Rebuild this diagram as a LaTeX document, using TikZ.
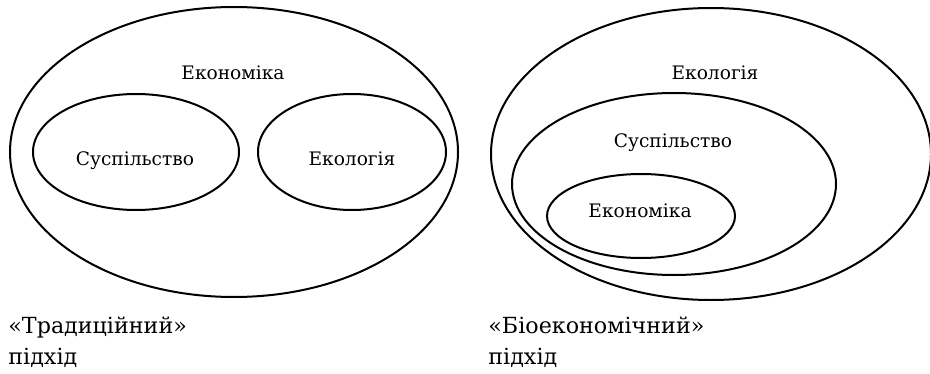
\documentclass[tikz,border=0pt]{standalone}
\usepackage{fontspec}
\setmainfont{DejaVu Serif}
\usepackage{tikz}
\usetikzlibrary{shapes.geometric,positioning}

\begin{document}
\begin{tikzpicture}[x=0.5pt, y=-0.5pt,
    set/.style={draw, ellipse, line width=1pt, inner sep=0pt},
    lbl/.style={anchor=base, inner sep=0pt, font=\fontsize{9.3}{12}\selectfont},
    captxt/.style={anchor=base west, inner sep=0pt, font=\fontsize{11.1}{14}\selectfont}]
  \useasboundingbox (0,0) rectangle (930,374);

  % "traditional" approach
  \node[set, minimum width=224pt, minimum height=145pt] (econL) at (234,152) {};
  \node[set, minimum width=103pt, minimum height=58pt] (socL) at (136,152) {};
  \node[set, minimum width=94pt, minimum height=58pt] (ecoL) at (352,152) {};
  \node[lbl] (econLtxt) at (233,80) {Економіка};
  \node[lbl] (socLtxt) at (135,165) {Суспільство};
  \node[lbl] (ecoLtxt) at (352,165) {Екологія};
  \node[captxt] (tradA) at (8,333) {«Традиційний»};
  \node[captxt] (tradB) at (8,364) {підхід};

  % "bioeconomic" approach
  \node[set, minimum width=220pt, minimum height=146pt] (ecoR) at (711,154) {};
  \node[set, minimum width=162pt, minimum height=91pt] (socR) at (674,184) {};
  \node[set, minimum width=94pt, minimum height=42pt] (econR) at (641,216) {};
  \node[lbl] (ecoRtxt) at (715,80) {Екологія};
  \node[lbl] (socRtxt) at (673,148) {Суспільство};
  \node[lbl] (econRtxt) at (640,217) {Економіка};
  \node[captxt] (bioA) at (488,333) {«Біоекономічний»};
  \node[captxt] (bioB) at (488,364) {підхід};
\end{tikzpicture}
\end{document}
